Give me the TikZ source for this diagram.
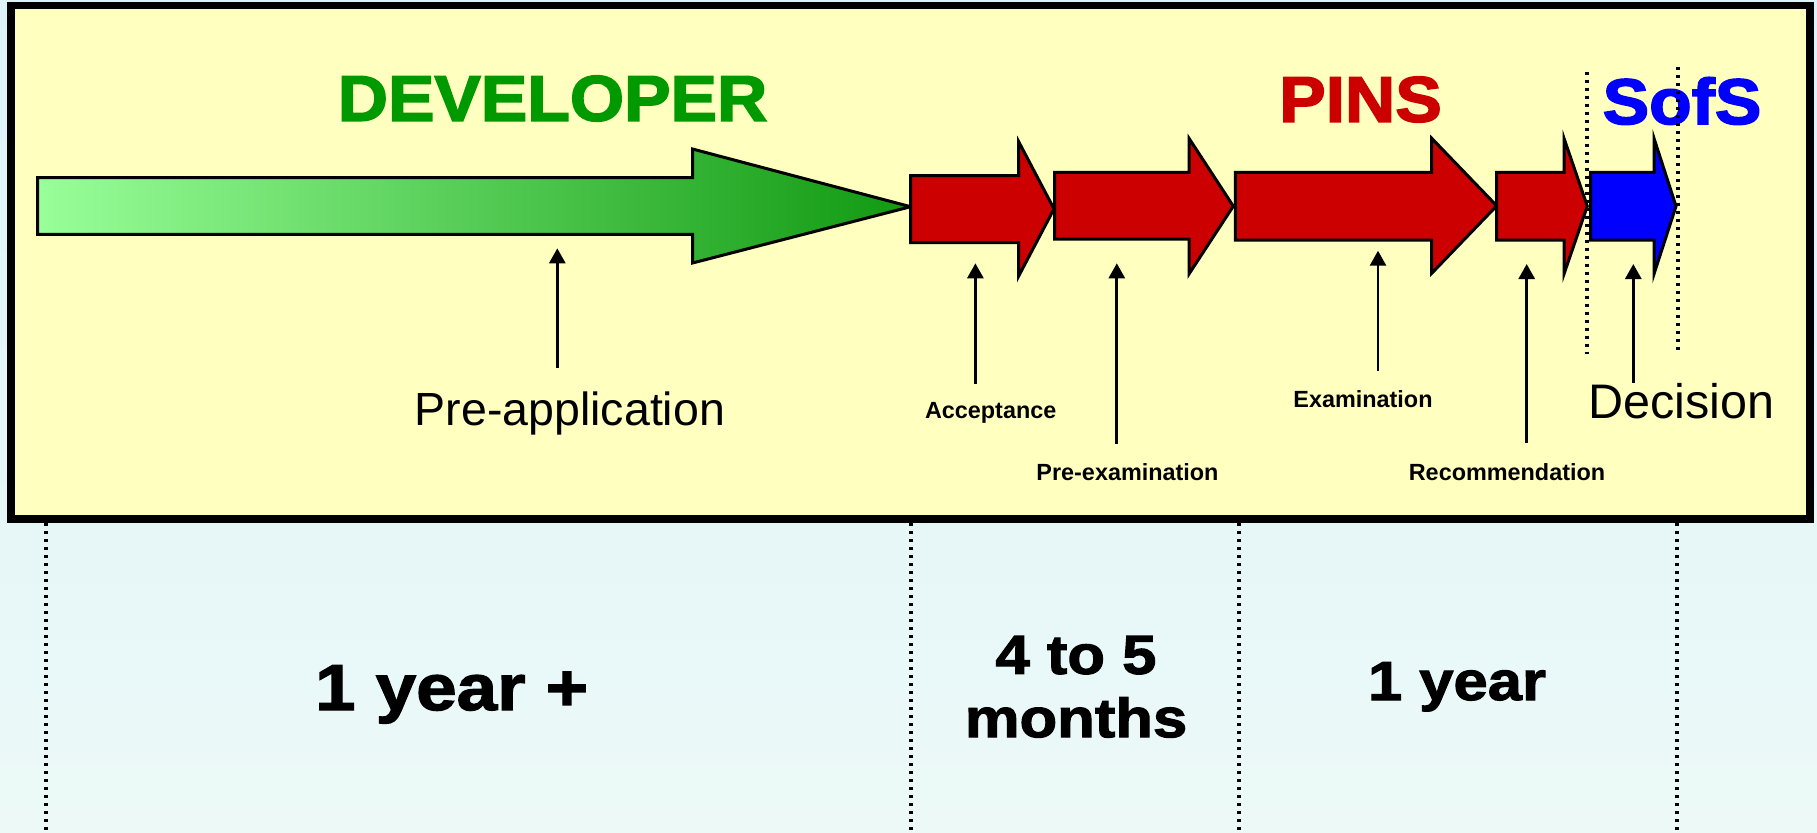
\documentclass[tikz,border=0pt]{standalone}
\usepackage{fontspec}
\setmainfont{Liberation Sans}
\newfontfamily\titlefont[FakeStretch=1.08,FakeBold=2.5]{Liberation Sans}
\newfontfamily\spanfont[FakeStretch=1.12,FakeBold=2]{Liberation Sans}
\usetikzlibrary{arrows.meta}

\definecolor{boxyellow}{RGB}{255,255,192}
\definecolor{pinsred}{RGB}{204,0,0}
\definecolor{sofsblue}{RGB}{0,0,255}
\definecolor{devgreen}{RGB}{0,153,0}
\definecolor{devlight}{RGB}{153,255,153}
\definecolor{devdark}{RGB}{17,153,17}
\definecolor{skytop}{RGB}{221,243,250}
\definecolor{skybottom}{RGB}{236,249,247}

\tikzset{
    phase/.style={draw=black, line width=1.5pt, line join=miter},
    pointer/.style={line width=1.4pt, -{Triangle[width=8pt,length=7.5pt]}},
    divider/.style={line width=1.9pt, dash pattern=on 1.6pt off 2.4pt},
    party/.style={font=\titlefont\bfseries\fontsize{32.25pt}{38pt}\selectfont, anchor=base, inner sep=0pt},
    stagebig/.style={font=\fontsize{23.25pt}{28pt}\selectfont, anchor=base, inner sep=0pt},
    stagesmall/.style={font=\bfseries\fontsize{11.7pt}{14pt}\selectfont, anchor=base, inner sep=0pt},
    span/.style={font=\spanfont\bfseries\fontsize{27.5pt}{31.65pt}\selectfont, align=center, inner sep=0pt}
}

\begin{document}
\begin{tikzpicture}[x=0.5pt,y=-0.5pt]
    \useasboundingbox (0,0) rectangle (1817,832);
    \shade[top color=skytop, bottom color=skybottom] (0,0) rectangle (1817,832);
    \draw[line width=3.8pt, fill=boxyellow] (10.7,5.5) rectangle (1810,519);

    % who is in charge
    \node[party, text=devgreen] (dev) at (552.5,120.7) {DEVELOPER};
    \node[party, text=pinsred] (pins) at (1360.5,121.7) {PINS};
    \node[party, text=sofsblue] (sofs) at (1682,124) {SofS};

    % the stages
    \draw[phase, left color=devlight, right color=devdark] (37.6,177.7) -- (692.5,177.7) -- (692.5,149) -- (910.6,206.7) -- (692.5,263) -- (692.5,234.3) -- (37.6,234.3) -- cycle;
    \foreach \xa/\xb/\xc/\ya/\yb/\yc/\yd in {910.7/1018.7/1054/175.7/242.7/141.7/276, 1054.7/1189/1233.3/172.3/239/138.3/274, 1235.3/1431.7/1496.7/172.3/240/138.3/273.3, 1496.7/1564/1587.3/172.3/240/138.3/274}
        \draw[phase, fill=pinsred] (\xa,\ya) -- (\xb,\ya) -- (\xb,\yc) -- (\xc,{(\yc+\yd)/2}) -- (\xb,\yd) -- (\xb,\yb) -- (\xa,\yb) -- cycle;
    \draw[phase, fill=sofsblue] (1590.7,172.3) -- (1654,172.3) -- (1654,138.3) -- (1676,206.2) -- (1654,274) -- (1654,240) -- (1590.7,240) -- cycle;

    % labels and pointers
    \node[stagebig, outer ysep=11.7pt] (preapp) at (570,425) {Pre-application};
    \node[stagesmall, outer ysep=9pt] (accept) at (990.7,418.3) {Acceptance};
    \node[stagesmall, outer ysep=10pt] (preexam) at (1127.5,480.7) {Pre-examination};
    \node[stagesmall, outer ysep=9.75pt] (exam) at (1363,407.3) {Examination};
    \node[stagesmall, outer ysep=10pt] (recom) at (1507,480) {Recommendation};
    \node[stagebig, font=\fontsize{24.25pt}{29pt}\selectfont] (decide) at (1681.2,418.3) {Decision};

    \coordinate (preappTip) at (557.3,248.3);
    \coordinate (acceptTip) at (975.4,263.3);
    \coordinate (preexamTip) at (1116.8,263.3);
    \coordinate (examTip) at (1378,250.7);
    \coordinate (recomTip) at (1526.7,264);
    \coordinate (decideTip) at (1633.3,264);
    \foreach \s in {preapp,accept,preexam,exam,recom,decide}
        \draw[pointer] (\s.north -| \s Tip) -- (\s Tip);

    % time taken
    \node[span, font=\spanfont\bfseries\fontsize{32.5pt}{38pt}\selectfont, anchor=base] (dur1) at (451.7,710) {1 year +};
    \node[span, anchor=north] (dur2) at (1076,635.6) {4 to 5\\months};
    \node[span, anchor=base] (dur3) at (1457,700) {1 year};

    \draw[divider] (1587.3,71.7) -- (1587.3,354);
    \draw[divider] (1678.3,66.7) -- (1678.3,350);
    \foreach \x in {46,911,1239,1677} \draw[divider] (\x,523) -- (\x,832);
\end{tikzpicture}
\end{document}
